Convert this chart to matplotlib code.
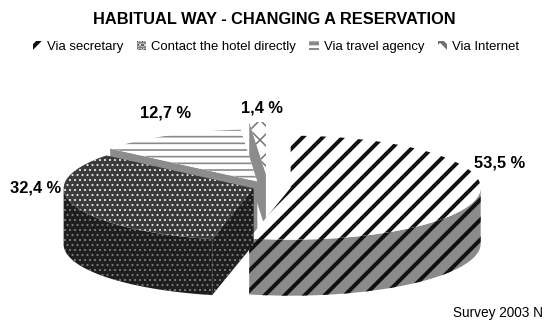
import numpy as np
import matplotlib
matplotlib.use('Agg')
import matplotlib.pyplot as plt
from matplotlib.patches import Polygon

labels = ['Via secretary', 'Contact the hotel directly', 'Via travel agency', 'Via Internet']
shares = [53.5, 32.4, 12.7, 1.4]
explode = [0.12, 0.08, 0.12, 0.25]

# styles per slice: top face and side wall
top_colors = ['white', '#3a3a3a', 'white', 'white']
hatch_colors = ['#111111', '#e0e0e0', '#8a8a8a', '#707070']
hatches = ['//', '....', '---', 'xx']
hatch_widths = [2.4, 0.7, 1.0, 0.9]
side_colors = ['#8a8a8a', '#1e1e1e', '#8c8c8c', '#8c8c8c']
side_hatch_colors = ['#111111', '#7a7a7a', '#8c8c8c', '#555555']
side_hatches = ['//', '....', '', '']
draw_order = [3, 2, 0, 1]   # back to front

plt.rcParams['font.family'] = ['Liberation Sans', 'DejaVu Sans']
plt.rcParams['hatch.linewidth'] = 2.4

DPI = 120
W, H = 550, 322
fig = plt.figure(figsize=(W / DPI, H / DPI), dpi=DPI)


def fx(px):
    return px / W


def fy(py):
    return 1 - py / H


# pie centre / radii in pixels, depth of the 3d effect
cx, cy = 268, 187
rx, ry = 190, 52
depth = 56 / ry

ax = fig.add_axes([0, 0, 1, 1])
wedges, _ = ax.pie(shares, explode=explode, startangle=90, counterclock=False,
                   radius=1, colors=top_colors, hatch=hatches,
                   wedgeprops=dict(linewidth=0))


def arc(c, t1, t2, n=80):
    t = np.radians(np.linspace(t1, t2, n))
    return np.column_stack([c[0] + np.cos(t), c[1] + np.sin(t)])


def front_parts(t1, t2):
    parts = []
    for k in range(-2, 2):
        lo, hi = 180 + 360 * k, 360 + 360 * k
        a, b = max(t1, lo), min(t2, hi)
        if b > a:
            parts.append((a, b))
    return parts


def set_hlw(p, lw):
    if hasattr(p, 'set_hatch_linewidth'):
        p.set_hatch_linewidth(lw)


for rank, i in enumerate(draw_order):
    w = wedges[i]
    w.set_edgecolor(hatch_colors[i])
    w.set_linewidth(0)
    w.set_zorder(rank * 10 + 5)
    set_hlw(w, hatch_widths[i])
    c = np.array(w.center)
    t1, t2 = w.theta1, w.theta2
    polys = []
    for a, b in front_parts(t1, t2):
        top = arc(c, a, b)
        bot = top - [0, depth]
        polys.append(np.vstack([top, bot[::-1]]))
    for t, sign in ((t1, 1), (t2, -1)):
        r = np.radians(t)
        if sign * np.cos(r) > 1e-6:
            e = c + [np.cos(r), np.sin(r)]
            polys.append(np.array([c, e, e - [0, depth], c - [0, depth]]))
    for p in polys:
        side = Polygon(p, closed=True, facecolor=side_colors[i],
                       edgecolor=side_hatch_colors[i], hatch=side_hatches[i] or None,
                       linewidth=0, zorder=rank * 10 + 2)
        set_hlw(side, hatch_widths[i])
        ax.add_patch(side)

ax.set_aspect('auto')
ax.set_xlim(-cx / rx, (W - cx) / rx)
ax.set_ylim(-(H - cy) / ry, cy / ry)
ax.axis('off')

# percentage labels
label_pos = [(500, 163), (36, 188), (165, 113), (262, 108)]
for v, (px, py) in zip(shares, label_pos):
    fig.text(fx(px), fy(py), f'{v:.1f} %'.replace('.', ','), ha='center', va='center',
             fontsize=9.8, fontweight='bold')

fig.text(fx(274), fy(20), 'HABITUAL WAY - CHANGING A RESERVATION', ha='center', va='center',
         fontsize=9.8, fontweight='bold')

fig.legend(wedges, labels, loc='center', bbox_to_anchor=(fx(276), fy(47)), ncol=4,
           frameon=False, fontsize=7.9, handlelength=0.7, handleheight=0.7,
           handletextpad=0.4, columnspacing=1.0)

fig.text(fx(453), fy(313), 'Survey 2003 N', ha='left', va='center', fontsize=8.2)

fig.savefig('out.png', dpi=DPI)
